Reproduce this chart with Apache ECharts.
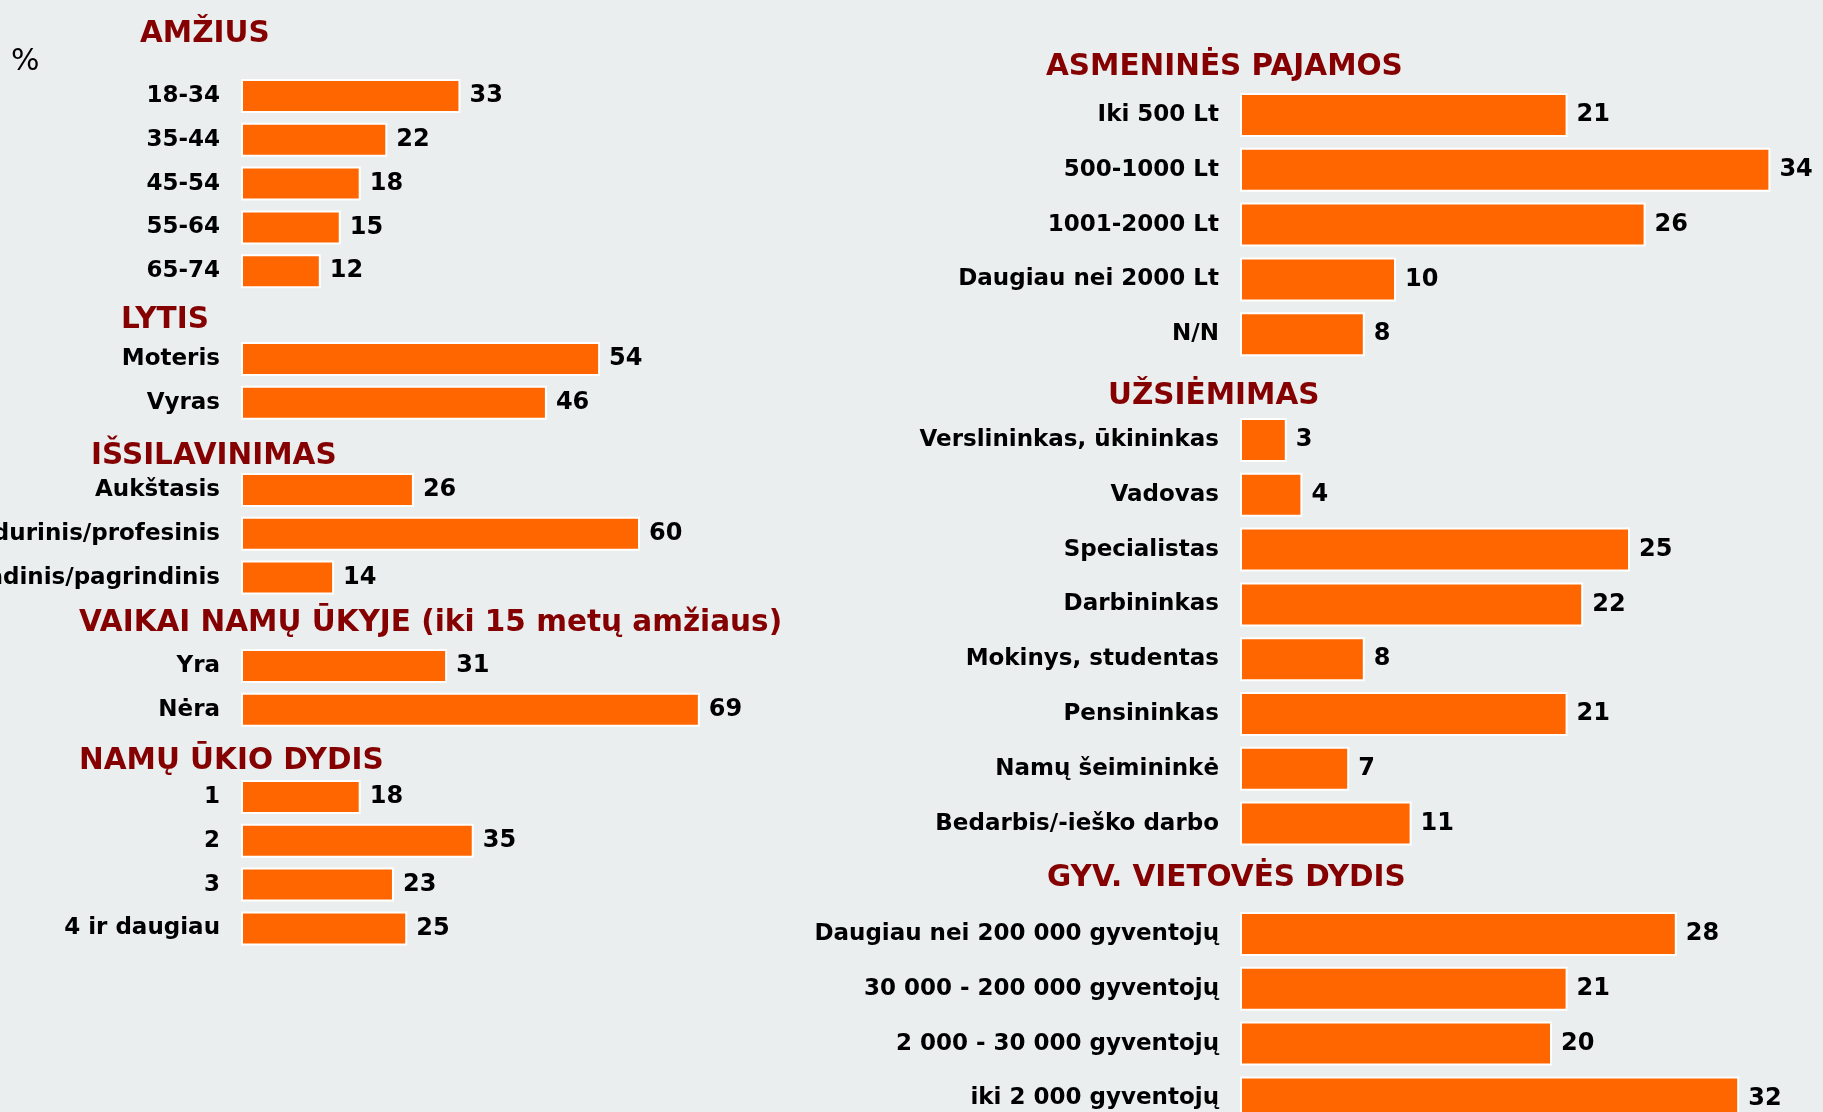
<!DOCTYPE html>
<html>
<head>
<meta charset="utf-8">
<script src="https://cdn.jsdelivr.net/npm/echarts@6/dist/echarts.min.js"></script>
<style>
  html, body { margin: 0; padding: 0; background: #eaeeef; }
  #chart { width: 1823px; height: 1112px; }
</style>
</head>
<body>
<div id="chart"></div>
<script>
// data (%)
const ageCats = ['18-34', '35-44', '45-54', '55-64', '65-74']
const ageVals = [33, 22, 18, 15, 12]
const genderCats = ['Moteris', 'Vyras']
const genderVals = [54, 46]
const eduCats = ['Aukštasis', 'Vidurinis/profesinis', 'Pradinis/pagrindinis']
const eduVals = [26, 60, 14]
const kidsCats = ['Yra', 'Nėra']
const kidsVals = [31, 69]
const householdCats = ['1', '2', '3', '4 ir daugiau']
const householdVals = [18, 35, 23, 25]
const incomeCats = ['Iki 500 Lt', '500-1000 Lt', '1001-2000 Lt', 'Daugiau nei 2000 Lt', 'N/N']
const incomeVals = [21, 34, 26, 10, 8]
const jobCats = ['Verslininkas, ūkininkas', 'Vadovas', 'Specialistas', 'Darbininkas',
  'Mokinys, studentas', 'Pensininkas', 'Namų šeimininkė', 'Bedarbis/-ieško darbo']
const jobVals = [3, 4, 25, 22, 8, 21, 7, 11]
const townCats = ['Daugiau nei 200 000 gyventojų', '30 000 - 200 000 gyventojų',
  '2 000 - 30 000 gyventojų', 'iki 2 000 gyventojų']
const townVals = [28, 21, 20, 32]

// layout of the two columns
const LEFT = { x: 241, max: 70, unit: 6.65, step: 43.8, bar: 34 }
const RIGHT = { x: 1240, max: 36, unit: 15.6, step: 54.8, bar: 44 }

const sections = [
  { title: 'AMŽIUS', tx: 140, ty: 33, col: LEFT, y0: 96, cats: ageCats, vals: ageVals },
  { title: 'LYTIS', tx: 121, ty: 319, col: LEFT, y0: 359, cats: genderCats, vals: genderVals },
  { title: 'IŠSILAVINIMAS', tx: 91, ty: 455, col: LEFT, y0: 490, cats: eduCats, vals: eduVals },
  { title: 'VAIKAI NAMŲ ŪKYJE (iki 15 metų amžiaus)', tx: 79, ty: 622, col: LEFT, y0: 666, cats: kidsCats, vals: kidsVals },
  { title: 'NAMŲ ŪKIO DYDIS', tx: 79, ty: 760, col: LEFT, y0: 797, cats: householdCats, vals: householdVals },
  { title: 'ASMENINĖS PAJAMOS', tx: 1046, ty: 66, col: RIGHT, y0: 115, cats: incomeCats, vals: incomeVals },
  { title: 'UŽSIĖMIMAS', tx: 1108, ty: 395, col: RIGHT, y0: 440, cats: jobCats, vals: jobVals },
  { title: 'GYV. VIETOVĖS DYDIS', tx: 1047, ty: 877, col: RIGHT, y0: 934, cats: townCats, vals: townVals }
]

const FONT = '"DejaVu Sans", Verdana, sans-serif'
const chart = echarts.init(document.getElementById('chart'))

const titles = sections.map((s) => ({
  text: s.title,
  left: s.tx,
  top: s.ty - 15,
  padding: 0,
  textStyle: { color: '#850000', fontFamily: FONT, fontWeight: 'bold', fontSize: 29.5, lineHeight: 32 }
}))
titles.push({
  text: '%',
  left: 11,
  top: 47,
  padding: 0,
  textStyle: { color: '#000', fontFamily: FONT, fontWeight: 'normal', fontSize: 30 }
})

chart.setOption({
  backgroundColor: '#eaeeef',
  animation: false,
  title: titles,
  grid: sections.map((s) => ({
    left: s.col.x,
    top: s.y0 - s.col.step / 2,
    width: s.col.max * s.col.unit,
    height: s.cats.length * s.col.step,
    outerBoundsMode: 'none'
  })),
  xAxis: sections.map((s, i) => ({
    type: 'value',
    gridIndex: i,
    min: 0,
    max: s.col.max,
    show: false
  })),
  yAxis: sections.map((s, i) => ({
    type: 'category',
    gridIndex: i,
    inverse: true,
    data: s.cats,
    axisLine: { show: false },
    axisTick: { show: false },
    axisLabel: {
      margin: 21,
      color: '#000',
      fontFamily: FONT,
      fontWeight: 'bold',
      fontSize: 23
    }
  })),
  series: sections.map((s, i) => ({
    type: 'bar',
    xAxisIndex: i,
    yAxisIndex: i,
    barWidth: s.col.bar,
    data: s.vals,
    itemStyle: { color: '#ff6600', borderColor: '#ffffff', borderWidth: 2 },
    label: {
      show: true,
      position: 'right',
      distance: 9,
      color: '#000',
      fontFamily: FONT,
      fontWeight: 'bold',
      fontSize: 24
    }
  }))
})
</script>
</body>
</html>
